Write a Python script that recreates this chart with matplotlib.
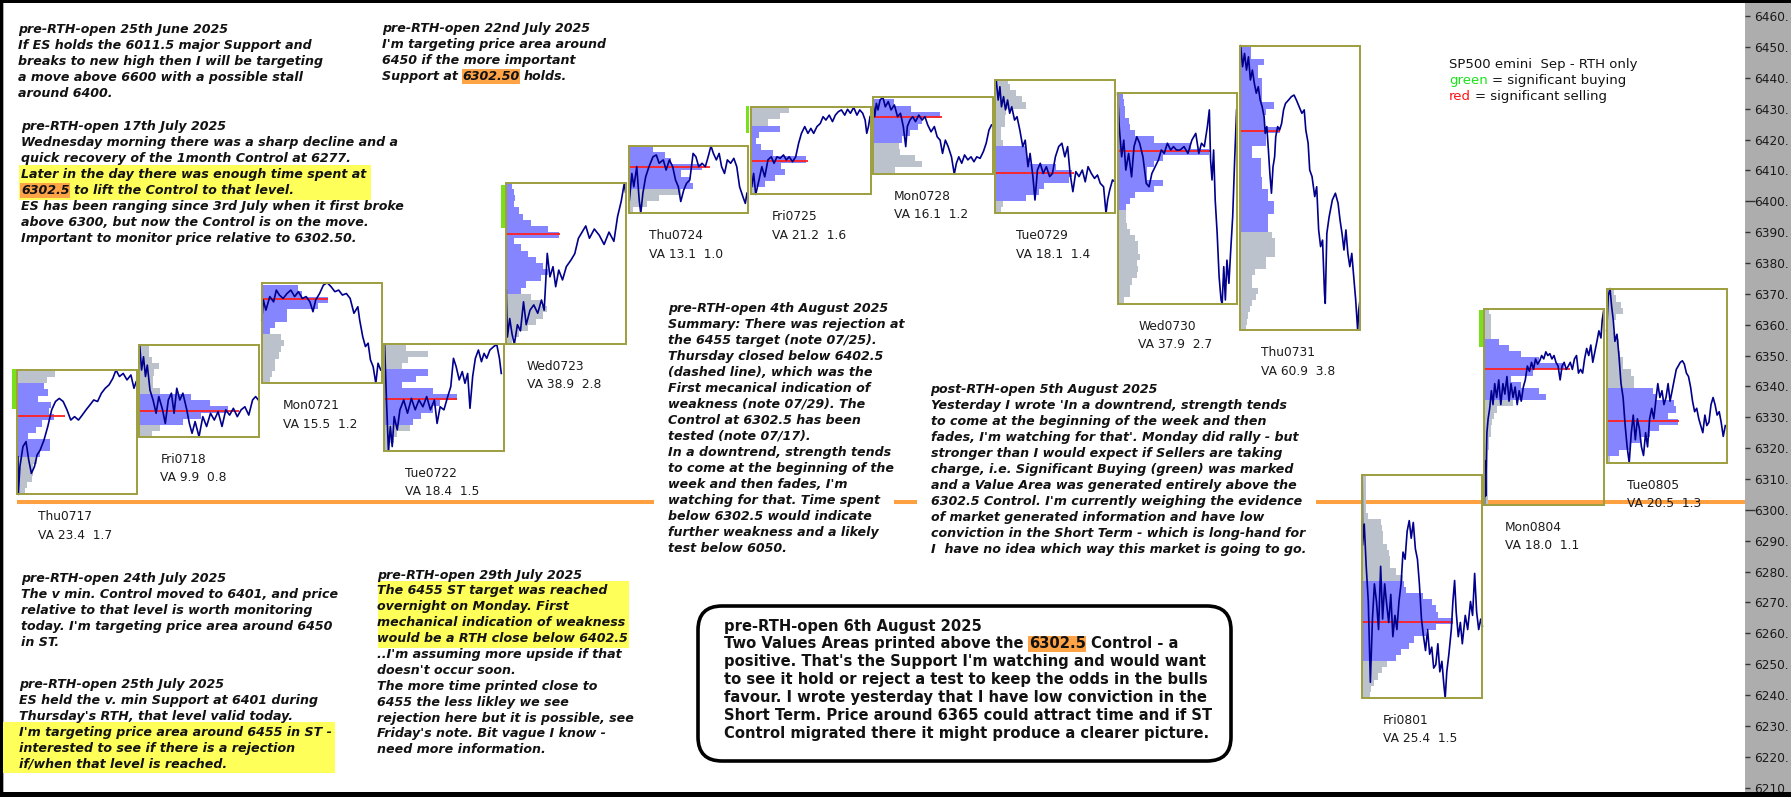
import matplotlib
matplotlib.use('Agg')
import matplotlib.pyplot as plt
from matplotlib.patches import Rectangle, FancyBboxPatch

plt.rcParams['font.family'] = ['DejaVu Sans']

# ---------------- data ----------------
days = ['Thu0717', 'Fri0718', 'Mon0721', 'Tue0722', 'Wed0723', 'Thu0724', 'Fri0725',
        'Mon0728', 'Tue0729', 'Wed0730', 'Thu0731', 'Fri0801', 'Mon0804', 'Tue0805']
va_text = ['VA 23.4  1.7', 'VA 9.9  0.8', 'VA 15.5  1.2', 'VA 18.4  1.5', 'VA 38.9  2.8',
           'VA 13.1  1.0', 'VA 21.2  1.6', 'VA 16.1  1.2', 'VA 18.1  1.4', 'VA 37.9  2.7',
           'VA 60.9  3.8', 'VA 25.4  1.5', 'VA 18.0  1.1', 'VA 20.5  1.3']
poc = [6330.4, 6332.0, 6368.2, 6335.8, 6389.3, 6411.2, 6413.0, 6427.2, 6409.0, 6416.3,
       6422.9, 6263.8, 6345.5, 6328.7]
poc_len = [0.39, 0.81, 0.54, 0.60, 0.44, 0.67, 0.47, 0.56, 0.64, 0.76, 0.33, 0.74, 0.70, 0.59]
va_lo = [6317.5, 6327.5, 6357.0, 6327.5, 6369.5, 6404.5, 6404.0, 6418.2, 6399.5, 6397.0,
         6390.0, 6251.5, 6336.0, 6318.0]
va_hi = [6341.5, 6337.5, 6374.0, 6345.3, 6406.0, 6418.0, 6423.6, 6434.0, 6418.2, 6435.0,
         6451.0, 6277.0, 6354.6, 6339.2]
green_lo = [6332.6, None, None, None, 6391.3, None, 6422.2, None, None, None, None, None, 6352.9, None]
green_hi = [6345.6, None, None, None, 6405.2, None, 6430.9, None, None, None, None, None, 6364.8, None]
support = 6302.5

# volume profile: lowest price of the first 2-point bin, then widths (fraction of a day) upward
prof_base = [6305, 6323.5, 6341, 6319.5, 6354, 6396, 6402.5, 6409, 6396, 6367, 6358, 6239, 6301.5, 6315.5]
prof_0717 = [.06, .08, .12, .13, .13, .16, .19, .27, .27, .09, .15, .2, .3, .26, .28, .17, .25, .22, .24, .31]
prof_0718 = [.1, .17, .36, .5, .72, .58, .42, .17, .11, .11, .12, .16, .1, .08, .08]
prof_0721 = [.07, .08, .11, .11, .14, .16, .18, .16, .07, .11, .21, .21, .46, .54, .33, .3]
prof_0722 = [.05, .08, .11, .21, .24, .3, .4, .46, .6, .4, .15, .26, .36, .15, .2, .36, .18]
prof_0723 = [.05, .1, .18, .24, .3, .33, .28, .2, .12, .16, .28, .34, .3, .24, .18, .12, .06, .43,
             .34, .2, .14, .1, .06, .07, .06, .05]
prof_0724 = [.04, .15, .25, .43, .53, .5, .43, .6, .35, .3, .2]
prof_0725 = [.04, .12, .2, .28, .25, .45, .18, .08, .04, .07, .24, .14, .24, .31]
prof_0728 = [.18, .4, .34, .22, .21, .24, .3, .37, .4, .55, .31, .17]
prof_0729 = [.05, .06, .25, .36, .4, .6, .63, .5, .28, .26, .25, .06, .05, .05, .08, .08, .09, .25,
             .22, .17, .12, .1]
prof_0730 = [.05, .1, .1, .12, .16, .17, .16, .18, .17, .17, .14, .1, .08, .07, .07, .07, .1, .14,
             .3, .37, .24, .24, .3, .37, .75, .6, .3, .14, .1, .09, .06, .06, .05, .04]
prof_0731 = [.05, .06, .07, .08, .1, .13, .15, .1, .1, .12, .21, .21, .29, .29, .29, .26, .23, .23,
             .23, .28, .28, .23, .23, .18, .18, .17, .17, .17, .1, .1, .21, .21, .33, .2, .2, .21,
             .28, .18, .18, .18, .18, .15, .15, .2, .09, .09]
prof_0801 = [.06, .07, .1, .13, .16, .2, .28, .32, .38, .42, .52, .6, .74, .62, .6, .57, .5, .36,
             .34, .33, .28, .23, .23, .22, .2, .17, .17, .16, .15, .05, .03, .03, .03, .03, .03, .03]
prof_0804 = [.03, .03, .03, .03, .03, .03, .03, .03, .03, .04, .04, .05, .05, .06, .08, .1, .23, .5,
             .45, .3, .22, .4, .65, .45, .3, .2, .12, .05, .05, .05, .05, .04]
prof_0805 = [.03, .1, .2, .27, .35, .43, .58, .5, .57, .55, .4, .38, .22, .22, .2, .13, .13, .11,
             .1, .1, .07, .05, .05, .08, .13, .12, .08, .06]

# intraday price: (fraction of the session, price)
path_0717 = [(.006, 6317.2), (.009, 6305.0), (.022, 6314.0), (.047, 6320.5), (.072, 6322.1), (.094, 6316.2),
             (.116, 6311.8), (.141, 6314.0), (.163, 6317.8), (.188, 6319.4), (.219, 6322.6), (.250, 6327.0),
             (.282, 6332.4), (.313, 6335.1), (.344, 6336.1), (.376, 6335.1), (.407, 6332.4), (.438, 6329.1),
             (.469, 6330.2), (.501, 6329.1), (.532, 6330.7), (.563, 6332.4), (.595, 6334.0), (.626, 6335.6),
             (.657, 6335.1), (.689, 6337.8), (.720, 6339.4), (.751, 6340.5), (.782, 6342.6), (.808, 6345.3),
             (.836, 6343.2), (.867, 6344.2), (.898, 6342.1), (.930, 6343.7), (.955, 6339.4), (.973, 6341.5)]
path_0718 = [(.002, 6353.4), (.017, 6345.3), (.033, 6349.6), (.049, 6343.2), (.064, 6346.9), (.086, 6338.8),
             (.111, 6335.6), (.136, 6331.3), (.158, 6336.7), (.189, 6332.4), (.211, 6328.0), (.236, 6335.6),
             (.261, 6337.8), (.283, 6331.3), (.305, 6339.4), (.330, 6335.6), (.355, 6337.8), (.387, 6332.4),
             (.408, 6328.0), (.430, 6324.8), (.455, 6328.6), (.487, 6323.7), (.518, 6330.2), (.549, 6327.0),
             (.581, 6331.3), (.612, 6329.1), (.643, 6331.8), (.675, 6327.0), (.706, 6332.4), (.737, 6330.7),
             (.768, 6332.9), (.800, 6330.2), (.831, 6332.4), (.862, 6333.4), (.894, 6330.7), (.925, 6335.6),
             (.950, 6336.7), (.972, 6335.6)]
path_0721 = [(.0, 6361.5), (.013, 6368.0), (.034, 6364.7), (.066, 6369.1), (.097, 6367.4), (.119, 6371.2),
             (.144, 6369.6), (.175, 6368.5), (.207, 6370.1), (.238, 6371.2), (.269, 6369.1), (.300, 6370.7),
             (.332, 6368.5), (.363, 6369.1), (.394, 6367.4), (.419, 6364.2), (.441, 6368.0), (.473, 6370.1),
             (.504, 6372.8), (.535, 6373.6), (.567, 6372.3), (.598, 6370.7), (.629, 6371.2), (.660, 6369.6),
             (.692, 6370.1), (.723, 6368.5), (.754, 6363.7), (.786, 6365.8), (.801, 6361.5), (.826, 6356.1),
             (.848, 6352.9), (.870, 6354.0), (.889, 6348.6), (.911, 6346.4), (.933, 6341.0), (.951, 6347.5),
             (.973, 6345.3)]
path_0722 = [(.005, 6353.7), (.020, 6335.6), (.036, 6319.2), (.052, 6327.0), (.067, 6320.5), (.083, 6330.2),
             (.108, 6325.9), (.130, 6332.4), (.161, 6335.6), (.192, 6331.3), (.224, 6336.1), (.255, 6332.4),
             (.286, 6335.6), (.318, 6333.4), (.349, 6336.7), (.380, 6332.4), (.412, 6335.6), (.434, 6328.0),
             (.459, 6333.4), (.490, 6332.4), (.521, 6336.7), (.546, 6339.9), (.568, 6349.1), (.590, 6346.4),
             (.615, 6342.1), (.640, 6344.8), (.662, 6341.0), (.684, 6344.2), (.703, 6332.9), (.725, 6343.2),
             (.747, 6349.1), (.772, 6351.8), (.797, 6348.0), (.818, 6350.7), (.840, 6349.1), (.866, 6351.8),
             (.897, 6352.9), (.922, 6353.6), (.944, 6349.1), (.959, 6344.2)]
path_0723 = [(.0, 6371.2), (.009, 6356.0), (.028, 6362.0), (.047, 6357.0), (.066, 6353.7), (.091, 6360.0),
             (.116, 6358.0), (.141, 6367.4), (.163, 6360.0), (.194, 6364.7), (.225, 6366.4), (.257, 6363.7),
             (.288, 6368.0), (.310, 6364.7), (.335, 6383.1), (.357, 6375.5), (.382, 6378.8), (.404, 6372.3),
             (.429, 6377.7), (.460, 6374.5), (.491, 6378.8), (.530, 6381.0), (.560, 6383.0), (.590, 6388.0),
             (.620, 6390.0), (.650, 6392.0), (.680, 6388.0), (.720, 6391.0), (.760, 6389.0), (.800, 6386.0),
             (.840, 6390.0), (.880, 6387.0), (.910, 6395.0), (.940, 6400.0), (.965, 6405.8), (.975, 6403.0)]
path_0724 = [(.007, 6400.4), (.027, 6409.0), (.043, 6404.7), (.067, 6411.2), (.087, 6400.4), (.100, 6396.1),
             (.117, 6402.6), (.140, 6407.9), (.167, 6411.2), (.200, 6414.4), (.227, 6415.0), (.250, 6412.3),
             (.284, 6413.4), (.307, 6410.1), (.334, 6413.4), (.361, 6411.2), (.384, 6406.9), (.407, 6404.7),
             (.427, 6399.9), (.451, 6403.6), (.474, 6405.8), (.501, 6406.9), (.528, 6415.5), (.551, 6414.4),
             (.574, 6411.2), (.601, 6412.3), (.628, 6411.2), (.651, 6414.4), (.674, 6417.9), (.694, 6415.5),
             (.718, 6413.4), (.741, 6415.5), (.761, 6411.2), (.785, 6409.0), (.808, 6413.4), (.835, 6412.3),
             (.861, 6413.9), (.885, 6411.2), (.908, 6404.7), (.935, 6401.5), (.955, 6399.3), (.968, 6402.6)]
path_0725 = [(.007, 6404.7), (.023, 6409.0), (.040, 6402.2), (.067, 6406.9), (.090, 6411.2), (.114, 6407.9),
             (.140, 6413.4), (.167, 6414.4), (.190, 6412.3), (.214, 6414.4), (.240, 6413.9), (.267, 6415.0),
             (.290, 6413.4), (.314, 6414.4), (.341, 6412.8), (.367, 6414.4), (.391, 6418.8), (.414, 6422.0),
             (.441, 6424.2), (.467, 6422.0), (.491, 6423.6), (.514, 6422.0), (.541, 6424.2), (.568, 6425.2),
             (.591, 6427.4), (.614, 6426.3), (.641, 6427.9), (.668, 6425.8), (.691, 6427.9), (.715, 6429.0),
             (.741, 6429.6), (.768, 6427.9), (.791, 6429.8), (.815, 6428.5), (.841, 6430.4), (.868, 6427.9),
             (.891, 6429.6), (.915, 6428.5), (.935, 6426.3), (.948, 6422.0), (.962, 6424.2), (.975, 6427.4)]
path_0728 = [(.003, 6430.6), (.013, 6427.4), (.027, 6431.7), (.040, 6429.6), (.057, 6432.8), (.080, 6433.7),
             (.100, 6430.6), (.124, 6432.3), (.147, 6429.6), (.174, 6431.2), (.200, 6427.4), (.224, 6428.5),
             (.247, 6424.2), (.267, 6417.7), (.280, 6424.2), (.301, 6426.3), (.324, 6427.4), (.347, 6425.8),
             (.374, 6427.9), (.401, 6426.3), (.424, 6427.4), (.447, 6424.7), (.474, 6422.5), (.501, 6424.2),
             (.524, 6420.9), (.548, 6419.8), (.568, 6415.5), (.591, 6419.8), (.614, 6417.7), (.641, 6414.4),
             (.664, 6408.8), (.681, 6412.3), (.701, 6414.4), (.725, 6412.3), (.748, 6415.0), (.775, 6413.4),
             (.801, 6414.4), (.825, 6412.8), (.848, 6414.4), (.875, 6413.9), (.902, 6416.1), (.925, 6418.8),
             (.948, 6423.1), (.968, 6424.7)]
path_0729 = [(.007, 6439.3), (.023, 6432.8), (.037, 6437.1), (.050, 6430.6), (.067, 6433.9), (.083, 6429.6),
             (.100, 6432.8), (.117, 6428.5), (.134, 6430.6), (.157, 6426.3), (.177, 6427.4), (.200, 6423.1),
             (.224, 6417.7), (.244, 6419.8), (.267, 6411.2), (.284, 6415.5), (.307, 6408.0), (.324, 6400.4),
             (.344, 6410.1), (.367, 6412.3), (.391, 6409.0), (.417, 6411.2), (.444, 6408.0), (.467, 6409.0),
             (.491, 6414.4), (.518, 6417.7), (.544, 6418.8), (.568, 6414.4), (.591, 6417.7), (.611, 6409.0),
             (.634, 6403.1), (.658, 6409.6), (.684, 6408.0), (.711, 6410.1), (.735, 6406.3), (.758, 6411.2),
             (.785, 6409.0), (.811, 6407.4), (.835, 6408.5), (.858, 6405.8), (.885, 6404.7), (.905, 6396.1),
             (.918, 6400.4), (.935, 6403.6), (.958, 6406.9), (.978, 6406.3)]
path_0730 = [(.0, 6435.0), (.013, 6424.2), (.033, 6414.4), (.050, 6419.8), (.067, 6410.1), (.090, 6415.5),
             (.114, 6407.9), (.134, 6417.7), (.157, 6420.9), (.180, 6418.8), (.207, 6414.4), (.234, 6405.8),
             (.257, 6404.7), (.280, 6409.0), (.307, 6411.2), (.334, 6413.4), (.357, 6416.6), (.381, 6415.5),
             (.407, 6418.8), (.434, 6416.6), (.457, 6417.7), (.481, 6416.6), (.511, 6416.6), (.543, 6417.7),
             (.575, 6415.5), (.607, 6419.8), (.639, 6422.0), (.664, 6415.5), (.686, 6418.8), (.709, 6417.7),
             (.734, 6424.2), (.750, 6429.6), (.760, 6413.4), (.772, 6406.9), (.785, 6416.6), (.798, 6400.4),
             (.814, 6389.6), (.830, 6375.5), (.846, 6368.0), (.855, 6366.7), (.868, 6378.8), (.881, 6368.0),
             (.894, 6380.9), (.910, 6373.4), (.925, 6384.2), (.941, 6395.0), (.957, 6413.4), (.973, 6429.6)]
path_0731 = [(.006, 6450.4), (.022, 6443.6), (.038, 6447.9), (.054, 6442.5), (.070, 6446.8), (.086, 6439.3),
             (.102, 6442.5), (.118, 6438.2), (.134, 6435.0), (.150, 6437.1), (.166, 6432.8), (.182, 6430.6),
             (.198, 6427.4), (.207, 6422.0), (.220, 6424.2), (.233, 6416.6), (.245, 6409.0), (.258, 6402.6),
             (.271, 6411.2), (.284, 6414.4), (.293, 6420.9), (.309, 6424.2), (.325, 6423.1), (.341, 6425.2),
             (.357, 6429.6), (.373, 6431.7), (.398, 6432.8), (.421, 6433.9), (.443, 6434.4), (.462, 6432.8),
             (.485, 6430.6), (.507, 6428.5), (.526, 6429.6), (.539, 6423.1), (.558, 6418.8), (.571, 6410.1),
             (.590, 6408.0), (.612, 6401.5), (.628, 6404.7), (.644, 6390.7), (.660, 6385.3), (.676, 6387.4),
             (.692, 6370.1), (.698, 6366.9), (.711, 6389.6), (.730, 6395.0), (.756, 6400.4), (.781, 6402.6),
             (.803, 6399.3), (.819, 6393.9), (.835, 6389.6), (.851, 6384.2), (.867, 6390.7), (.883, 6383.1),
             (.899, 6378.8), (.915, 6383.1), (.931, 6375.5), (.947, 6368.0), (.963, 6358.2), (.972, 6364.7),
             (.982, 6368.0)]
path_0801 = [(.0, 6311.3), (.003, 6288.5), (.017, 6295.4), (.033, 6281.7), (.050, 6270.3), (.067, 6244.1),
             (.084, 6264.6), (.100, 6276.0), (.117, 6270.3), (.134, 6261.2), (.151, 6281.7), (.167, 6264.6),
             (.184, 6276.0), (.201, 6269.2), (.217, 6263.5), (.234, 6272.6), (.251, 6258.9), (.268, 6265.8),
             (.284, 6261.2), (.301, 6270.3), (.318, 6276.0), (.334, 6286.3), (.351, 6284.0), (.368, 6293.1),
             (.385, 6296.5), (.401, 6290.8), (.418, 6295.9), (.435, 6287.4), (.452, 6284.0), (.468, 6276.0),
             (.485, 6264.6), (.502, 6258.9), (.518, 6254.4), (.535, 6261.2), (.552, 6253.2), (.569, 6255.5),
             (.585, 6248.7), (.602, 6249.8), (.619, 6256.6), (.635, 6247.5), (.652, 6250.9), (.669, 6242.9),
             (.679, 6239.0), (.692, 6247.5), (.709, 6253.2), (.729, 6261.2), (.742, 6270.3), (.756, 6277.1),
             (.769, 6266.9), (.786, 6258.9), (.803, 6263.5), (.819, 6256.6), (.843, 6265.8), (.863, 6261.2),
             (.886, 6270.3), (.903, 6265.8), (.920, 6279.4), (.936, 6266.9), (.953, 6261.2), (.970, 6264.6),
             (.983, 6262.3)]
path_0804 = [(.0, 6301.6), (.003, 6315.9), (.010, 6304.5), (.020, 6325.0), (.030, 6329.5), (.043, 6332.9),
             (.057, 6338.6), (.070, 6334.1), (.084, 6340.9), (.100, 6336.4), (.117, 6342.1), (.134, 6334.1),
             (.151, 6340.9), (.167, 6337.5), (.184, 6343.2), (.201, 6335.2), (.217, 6340.9), (.234, 6336.4),
             (.251, 6339.8), (.268, 6334.1), (.284, 6338.6), (.301, 6335.2), (.318, 6339.8), (.334, 6342.1),
             (.351, 6346.6), (.368, 6344.9), (.385, 6347.8), (.401, 6345.5), (.418, 6348.9), (.435, 6347.2),
             (.452, 6348.3), (.468, 6350.0), (.485, 6348.9), (.502, 6351.2), (.518, 6350.0), (.535, 6350.6),
             (.552, 6348.9), (.569, 6350.0), (.585, 6347.8), (.602, 6346.6), (.619, 6342.1), (.635, 6346.6),
             (.652, 6347.8), (.669, 6345.5), (.686, 6346.6), (.702, 6347.8), (.719, 6345.5), (.736, 6348.9),
             (.753, 6350.0), (.769, 6344.3), (.786, 6345.5), (.803, 6344.3), (.819, 6348.9), (.836, 6352.3),
             (.853, 6350.0), (.870, 6353.4), (.886, 6347.8), (.903, 6351.2), (.920, 6354.6), (.936, 6358.0),
             (.953, 6355.7), (.963, 6361.4), (.977, 6365.1)]
path_0805 = [(.0, 6358.0), (.013, 6369.4), (.027, 6371.7), (.040, 6366.0), (.054, 6361.4), (.067, 6354.6),
             (.084, 6356.9), (.100, 6350.0), (.117, 6340.9), (.134, 6336.4), (.151, 6327.3), (.167, 6320.4),
             (.184, 6315.3), (.201, 6325.0), (.217, 6330.7), (.234, 6322.7), (.251, 6329.5), (.268, 6326.1),
             (.284, 6320.4), (.301, 6317.6), (.318, 6325.0), (.334, 6320.4), (.351, 6329.5), (.368, 6332.9),
             (.385, 6329.5), (.401, 6335.2), (.418, 6340.9), (.435, 6336.4), (.452, 6338.6), (.468, 6334.1),
             (.485, 6336.4), (.502, 6340.9), (.518, 6335.2), (.535, 6338.6), (.552, 6342.1), (.569, 6345.5),
             (.585, 6346.6), (.602, 6347.8), (.619, 6348.3), (.635, 6347.2), (.652, 6344.3), (.669, 6343.2),
             (.686, 6339.8), (.702, 6335.2), (.719, 6331.8), (.736, 6332.9), (.753, 6329.5), (.769, 6327.3),
             (.786, 6325.0), (.803, 6330.7), (.819, 6327.3), (.836, 6328.4), (.853, 6334.1), (.870, 6336.4),
             (.886, 6334.1), (.903, 6330.7), (.920, 6331.8), (.936, 6328.4), (.953, 6323.8), (.970, 6327.3)]

profiles = [prof_0717, prof_0718, prof_0721, prof_0722, prof_0723, prof_0724, prof_0725,
            prof_0728, prof_0729, prof_0730, prof_0731, prof_0801, prof_0804, prof_0805]
paths = [path_0717, path_0718, path_0721, path_0722, path_0723, path_0724, path_0725,
         path_0728, path_0729, path_0730, path_0731, path_0801, path_0804, path_0805]

# ---------------- notes ----------------
ORANGE = '#ffa347'
YEL = '#ffff59'
INK = '#121212'

note_0625 = ["pre-RTH-open 25th June 2025",
             "If ES holds the 6011.5 major Support and",
             "breaks to new high then I will be targeting",
             "a move above 6600 with a possible stall",
             "around 6400."]
note_0717 = ["pre-RTH-open 17th July 2025",
             "Wednesday morning there was a sharp decline and a",
             "quick recovery of the 1month Control at 6277.",
             "Later in the day there was enough time spent at",
             [("6302.5", ORANGE, None), (" to lift the Control to that level.", None, None)],
             "ES has been ranging since 3rd July when it first broke",
             "above 6300, but now the Control is on the move.",
             "Important to monitor price relative to 6302.50."]
note_0722 = ["pre-RTH-open 22nd July 2025",
             "I'm targeting price area around",
             "6450 if the more important",
             [("Support at", None, None), (" 6302.50", ORANGE, None), (" holds.", None, None)]]
note_0804 = ["pre-RTH-open 4th August 2025",
             "Summary: There was rejection at",
             "the 6455 target (note 07/25).",
             "Thursday closed below 6402.5",
             "(dashed line), which was the",
             "First mecanical indication of",
             "weakness (note 07/29). The",
             "Control at 6302.5 has been",
             "tested (note 07/17).",
             "In a downtrend, strength tends",
             "to come at the beginning of the",
             "week and then fades, I'm",
             "watching for that. Time spent",
             "below 6302.5 would indicate",
             "further weakness and a likely",
             "test below 6050."]
note_0805 = ["post-RTH-open 5th August 2025",
             "Yesterday I wrote 'In a downtrend, strength tends",
             "to come at the beginning of the week and then",
             "fades, I'm watching for that'. Monday did rally - but",
             "stronger than I would expect if Sellers are taking",
             "charge, i.e. Significant Buying (green) was marked",
             "and a Value Area was generated entirely above the",
             "6302.5 Control. I'm currently weighing the evidence",
             "of market generated information and have low",
             "conviction in the Short Term - which is long-hand for",
             "I  have no idea which way this market is going to go."]
note_0724 = ["pre-RTH-open 24th July 2025",
             "The v min. Control moved to 6401, and price",
             "relative to that level is worth monitoring",
             "today. I'm targeting price area around 6450",
             "in ST."]
note_0725 = ["pre-RTH-open 25th July 2025",
             "ES held the v. min Support at 6401 during",
             "Thursday's RTH, that level valid today.",
             "I'm targeting price area around 6455 in ST -",
             "interested to see if there is a rejection",
             "if/when that level is reached."]
note_0729 = ["pre-RTH-open 29th July 2025",
             "The 6455 ST target was reached",
             "overnight on Monday. First",
             "mechanical indication of weakness",
             "would be a RTH close below 6402.5",
             "..I'm assuming more upside if that",
             "doesn't occur soon.",
             "The more time printed close to",
             "6455 the less likley we see",
             "rejection here but it is possible, see",
             "Friday's note. Bit vague I know -",
             "need more information."]
note_0806 = ["pre-RTH-open 6th August 2025",
             [("Two Values Areas printed above the", None, None), (" 6302.5", ORANGE, None),
              (" Control - a", None, None)],
             "positive. That's the Support I'm watching and would want",
             "to see it hold or reject a test to keep the odds in the bulls",
             "favour. I wrote yesterday that I have low conviction in the",
             "Short Term. Price around 6365 could attract time and if ST",
             "Control migrated there it might produce a clearer picture."]
legend_lines = ["SP500 emini  Sep - RTH only",
                [("green", None, '#19e619'), (" = significant buying", None, None)],
                [("red", None, '#ff1010'), (" = significant selling", None, None)]]

# ---------------- figure ----------------
W, H = 1791, 797
fig = plt.figure(figsize=(W / 100, H / 100), dpi=100, facecolor='#adadad')
ax = fig.add_axes([4 / W, 5 / H, (1745 - 4) / W, (794 - 5) / H])
ax.set_facecolor('white')
ax.set_xlim(-0.108, 14.131)
ax.set_ylim(6208.56, 6464.24)
for s in ax.spines.values():
    s.set_visible(False)
ax.set_xticks([])
ax.yaxis.tick_right()
ax.set_yticks(range(6210, 6461, 10))
ax.set_yticklabels(['%d.' % v for v in range(6210, 6461, 10)])
ax.tick_params(axis='y', direction='out', length=3.6, width=1, color='#333333',
               pad=3.2, labelsize=8.7, labelcolor='#1a1a1a')
for t in ax.yaxis.get_major_ticks():
    if t.get_loc() in (6300, 6400):
        t.tick2line.set_markersize(7.5)

ax.hlines(support, 0, 14.5, color='#ffa040', lw=2.9, zorder=1)

BOXW = 0.98
for i in range(len(days)):
    px = [i + f for f, p in paths[i]]
    py = [p for f, p in paths[i]]
    lo, hi = min(py), max(py)
    base = prof_base[i]
    edges = [base + 2 * k for k in range(len(profiles[i]))]
    hts = [min(e + 2, hi) - e for e in edges]
    cols = ['#8585ff' if va_lo[i] <= e + 1 <= va_hi[i] else '#bcc2cc' for e in edges]
    ax.barh(edges, profiles[i], height=hts, left=i, align='edge', color=cols,
            edgecolor='none', zorder=2)
    ax.hlines(poc[i], i, i + poc_len[i], color='#ff2020', lw=1.3, zorder=5)
    ax.plot(px, py, color='#00008c', lw=1.2, zorder=6)
    ax.add_patch(Rectangle((i, lo), BOXW, hi - lo, fill=False, edgecolor='#9d9d3f',
                           lw=1.4, zorder=7))
    if green_lo[i] is not None:
        ax.add_patch(Rectangle((i - 0.042, green_lo[i]), 0.03, green_hi[i] - green_lo[i],
                               color='#7ae01c', lw=0, zorder=3))
    ax.annotate(days[i], xy=(i + 0.17, lo), xytext=(0, -16.2), textcoords='offset points',
                ha='left', va='center', fontsize=8.8, color='#1c1c1c', annotation_clip=False)
    ax.annotate(va_text[i], xy=(i + 0.17, lo), xytext=(0, -29.4), textcoords='offset points',
                ha='left', va='center', fontsize=8.8, color='#1c1c1c', annotation_clip=False)

# overlay in pixel coordinates for the notes
ov = fig.add_axes([0, 0, 1, 1])
ov.set_xlim(0, W)
ov.set_ylim(H, 0)
ov.axis('off')


def write(x, y, lines, size=9.1, dy=15.9, weight='bold', style='italic', space=0.348, bg=False):
    for k, line in enumerate(lines):
        segs = [(line, None, None)] if isinstance(line, str) else line
        yy = y + k * dy
        if bg:
            full = ''.join(s[0] for s in segs)
            ov.text(x, yy, full, color='none', fontsize=size, fontweight=weight, fontstyle=style,
                    va='center', ha='left', zorder=1,
                    bbox=dict(boxstyle='square,pad=1.1', fc='white', ec='none'))
        prev = None
        for s, hl, col in segs:
            kw = dict(fontsize=size, fontweight=weight, fontstyle=style, color=col or INK, zorder=4)
            if hl:
                kw['bbox'] = dict(boxstyle='square,pad=0.06', fc=hl, ec='none')
            if prev is None:
                prev = ov.text(x, yy, s, va='center', ha='left', **kw)
            else:
                n = len(s) - len(s.lstrip(' '))
                prev = ov.annotate(s.lstrip(' '), xy=(1, 0), xycoords=prev,
                                   xytext=(n * space * size, 0), textcoords='offset points',
                                   va='bottom', ha='left', **kw)


# yellow highlights
ov.add_patch(Rectangle((19, 164.7), 352, 35, fc=YEL, ec='none', zorder=2))
ov.add_patch(Rectangle((2, 722.3), 333, 51, fc=YEL, ec='none', zorder=2))
ov.add_patch(Rectangle((378, 580.9), 251, 66.7, fc=YEL, ec='none', zorder=2))

write(18.4, 29.3, note_0625, dy=16)
write(21, 126.7, note_0717, dy=16)
write(382, 28.3, note_0722, dy=16)
write(668, 308.3, note_0804, dy=16, bg=True)
write(930.6, 389.3, note_0805, dy=16, bg=True)
write(21, 578.3, note_0724, dy=16)
write(19, 684.3, note_0725, dy=16)
write(376.7, 575, note_0729, dy=15.9)

ov.add_patch(FancyBboxPatch((698, 606), 533, 155, boxstyle='round,pad=0,rounding_size=24',
                            lw=2.6, ec='black', fc='white', zorder=2))
write(724, 626, note_0806, size=10.66, dy=17.9, style='normal')
write(1449, 64.3, legend_lines, size=9.5, dy=16, weight='normal', style='normal', space=0.318)

# black frame
ov.add_patch(Rectangle((0, 0), W, 3, fc='black', ec='none', zorder=10))
ov.add_patch(Rectangle((0, 0), 3, H, fc='black', ec='none', zorder=10))
ov.add_patch(Rectangle((0, H - 5), W, 5, fc='black', ec='none', zorder=10))

fig.savefig('out.png', dpi=100, facecolor=fig.get_facecolor())
